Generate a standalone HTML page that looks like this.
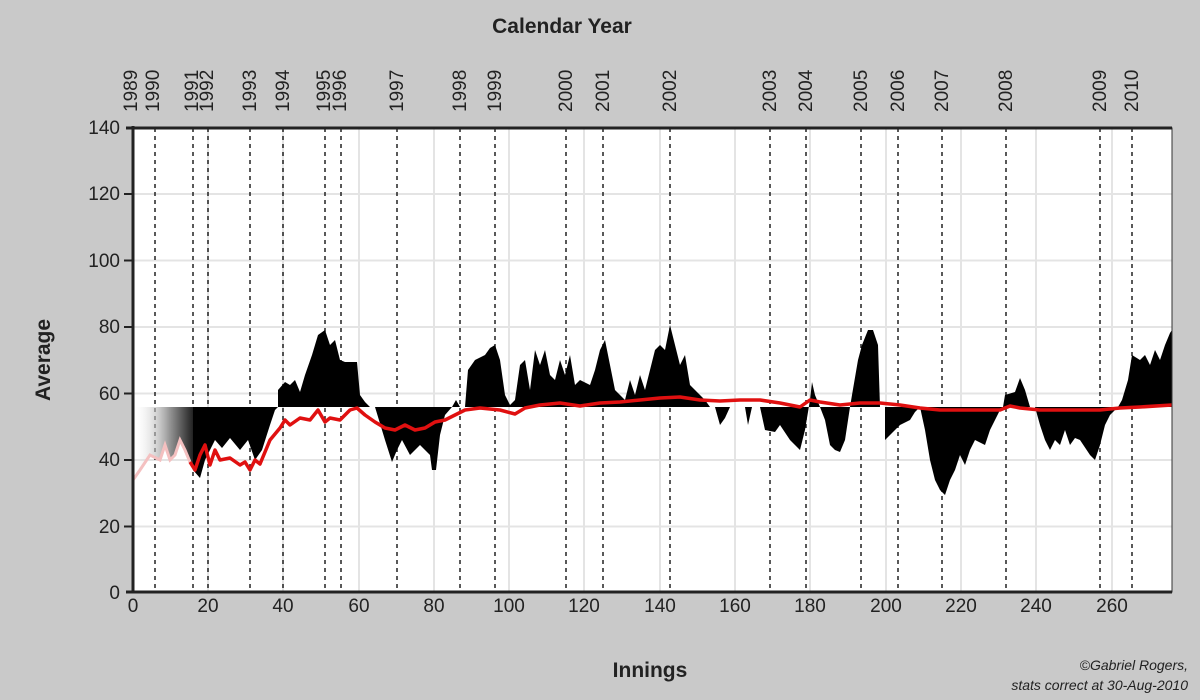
<!DOCTYPE html>
<html><head><meta charset="utf-8"><style>
html,body{margin:0;padding:0;background:#c9c9c9;}
svg{display:block;font-family:"Liberation Sans",sans-serif;}
</style></head><body>
<svg width="1200" height="700" viewBox="0 0 1200 700">
<defs>
<linearGradient id="g" x1="0" x2="1" y1="0" y2="0">
<stop offset="0" stop-color="#fff" stop-opacity="0"/>
<stop offset="0.6" stop-color="#999"/>
<stop offset="1" stop-color="#222"/>
</linearGradient>
</defs>
<rect width="1200" height="700" fill="#c9c9c9"/>
<rect x="133" y="128" width="1039" height="464" fill="#fff"/>
<g stroke="#e4e4e4" stroke-width="2">
<line x1="133" x2="1172" y1="526.5" y2="526.5"/><line x1="133" x2="1172" y1="460" y2="460"/>
<line x1="133" x2="1172" y1="393.5" y2="393.5"/><line x1="133" x2="1172" y1="327" y2="327"/>
<line x1="133" x2="1172" y1="260.5" y2="260.5"/><line x1="133" x2="1172" y1="194" y2="194"/>
<line x1="208" x2="208" y1="128" y2="592"/><line x1="283" x2="283" y1="128" y2="592"/><line x1="359" x2="359" y1="128" y2="592"/><line x1="434" x2="434" y1="128" y2="592"/><line x1="509" x2="509" y1="128" y2="592"/><line x1="584" x2="584" y1="128" y2="592"/><line x1="660" x2="660" y1="128" y2="592"/><line x1="735" x2="735" y1="128" y2="592"/><line x1="810" x2="810" y1="128" y2="592"/><line x1="886" x2="886" y1="128" y2="592"/><line x1="961" x2="961" y1="128" y2="592"/><line x1="1036" x2="1036" y1="128" y2="592"/><line x1="1112" x2="1112" y1="128" y2="592"/>
</g>
<g stroke="#222" stroke-width="1.5" stroke-dasharray="4,4">
<line x1="155" x2="155" y1="128" y2="592"/><line x1="193" x2="193" y1="128" y2="592"/><line x1="208" x2="208" y1="128" y2="592"/><line x1="250" x2="250" y1="128" y2="592"/><line x1="283" x2="283" y1="128" y2="592"/><line x1="325" x2="325" y1="128" y2="592"/><line x1="341" x2="341" y1="128" y2="592"/><line x1="397" x2="397" y1="128" y2="592"/><line x1="460" x2="460" y1="128" y2="592"/><line x1="495" x2="495" y1="128" y2="592"/><line x1="566" x2="566" y1="128" y2="592"/><line x1="603" x2="603" y1="128" y2="592"/><line x1="670" x2="670" y1="128" y2="592"/><line x1="770" x2="770" y1="128" y2="592"/><line x1="806" x2="806" y1="128" y2="592"/><line x1="861" x2="861" y1="128" y2="592"/><line x1="898" x2="898" y1="128" y2="592"/><line x1="942" x2="942" y1="128" y2="592"/><line x1="1006" x2="1006" y1="128" y2="592"/><line x1="1100" x2="1100" y1="128" y2="592"/><line x1="1132" x2="1132" y1="128" y2="592"/>
</g>
<polygon fill="url(#g)" points="133,407 193,407 193,470 185,450 180,440 175,455 170,460 165,445 160,460 150,455 140,470 133,480"/>
<polygon fill="#000" points="193,407 193,470 200,478 205,460 215,440 222,448 230,438 240,450 248,440 255,460 262,450 270,425 275,410 278,407 278,390 285,382 290,385 295,380 300,392 305,375 312,355 318,335 325,330 330,345 335,340 340,360 345,362 357,362 360,395 365,402 370,407 375,407 385,440 392,462 397,450 402,440 410,455 420,445 430,455 432,470 436,470 440,435 445,415 452,407 456,400 460,407 465,407 468,370 475,360 485,355 490,348 495,345 500,360 505,395 510,405 515,400 520,365 525,360 530,390 535,350 540,365 545,350 550,375 555,380 560,360 565,375 570,355 575,385 580,380 590,385 595,370 600,350 605,340 610,365 615,390 620,395 625,400 630,380 635,395 640,375 645,390 650,370 655,350 660,345 665,350 670,325 675,345 680,365 685,355 690,385 695,390 700,395 705,400 710,407 715,407 720,425 725,418 730,407 745,407 748,425 752,407 760,407 765,430 775,432 780,425 790,440 795,445 800,450 805,430 810,400 812,382 815,395 820,407 825,420 830,445 835,450 840,452 845,440 850,407 852,395 858,360 862,345 868,330 873,330 878,345 880,407 885,407 885,440 892,433 900,425 910,420 915,412 920,407 925,430 930,460 935,480 940,490 945,495 950,480 955,470 960,455 965,465 970,450 975,440 985,445 990,430 995,420 1000,410 1003,407 1005,395 1015,392 1020,378 1025,390 1030,407 1035,407 1040,425 1045,440 1050,450 1055,440 1060,445 1065,430 1070,445 1075,438 1080,440 1090,455 1095,460 1100,445 1105,425 1110,415 1115,410 1118,407 1122,400 1128,380 1132,355 1140,360 1145,355 1150,365 1155,350 1160,360 1165,345 1170,333 1172,330 1172,407"/>
<polyline fill="none" stroke="#f4c0c0" stroke-width="3" points="133,480 140,470 150,455 160,460 165,445 170,460 175,455 180,440 185,450 190,462"/>
<polyline fill="none" stroke="#e01010" stroke-width="3.5" stroke-linejoin="round" points="190,462 195,470 200,455 205,445 210,465 215,450 220,460 230,458 240,465 245,462 250,470 255,460 260,464 270,440 280,428 285,420 290,425 300,418 310,420 318,410 325,422 330,418 340,420 350,410 357,408 365,415 375,422 385,428 395,430 405,425 415,430 425,428 435,422 445,420 455,415 465,410 480,408 500,410 515,414 525,408 540,405 560,403 580,406 600,403 620,402 640,400 660,398 680,397 700,400 720,401 740,400 760,400 780,403 800,407 810,400 820,402 840,405 860,403 880,403 900,405 920,408 940,410 960,410 980,410 1000,410 1010,406 1020,408 1040,410 1080,410 1100,410 1120,408 1140,407 1172,405"/>
<rect x="133" y="128" width="1039" height="464" fill="none" stroke="#333" stroke-width="1"/>
<line x1="133" x2="133" y1="126" y2="593" stroke="#222" stroke-width="3"/>
<line x1="126" x2="1172" y1="592" y2="592" stroke="#222" stroke-width="3"/>
<line x1="126" x2="1172" y1="128" y2="128" stroke="#222" stroke-width="3"/>
<g stroke="#222" stroke-width="2">
<line x1="124" x2="133" y1="526.5" y2="526.5"/><line x1="124" x2="133" y1="460" y2="460"/><line x1="124" x2="133" y1="393.5" y2="393.5"/><line x1="124" x2="133" y1="327" y2="327"/><line x1="124" x2="133" y1="260.5" y2="260.5"/><line x1="124" x2="133" y1="194" y2="194"/>
</g>
<g font-size="19" fill="#222" text-anchor="end">
<text x="120" y="599">0</text><text x="120" y="533">20</text><text x="120" y="466">40</text><text x="120" y="400">60</text><text x="120" y="333">80</text><text x="120" y="267">100</text><text x="120" y="200">120</text><text x="120" y="134">140</text>
</g>
<g font-size="19" fill="#222" text-anchor="middle">
<text x="133" y="612">0</text><text x="208" y="612">20</text><text x="283" y="612">40</text><text x="359" y="612">60</text><text x="434" y="612">80</text><text x="509" y="612">100</text><text x="584" y="612">120</text><text x="660" y="612">140</text><text x="735" y="612">160</text><text x="810" y="612">180</text><text x="886" y="612">200</text><text x="961" y="612">220</text><text x="1036" y="612">240</text><text x="1112" y="612">260</text>
</g>
<g font-size="19" fill="#222">
<text transform="translate(137,112) rotate(-90)">1989</text>
<text transform="translate(159,112) rotate(-90)">1990</text>
<text transform="translate(198,112) rotate(-90)">1991</text>
<text transform="translate(213,112) rotate(-90)">1992</text>
<text transform="translate(256,112) rotate(-90)">1993</text>
<text transform="translate(289,112) rotate(-90)">1994</text>
<text transform="translate(330,112) rotate(-90)">1995</text>
<text transform="translate(346,112) rotate(-90)">1996</text>
<text transform="translate(403,112) rotate(-90)">1997</text>
<text transform="translate(466,112) rotate(-90)">1998</text>
<text transform="translate(501,112) rotate(-90)">1999</text>
<text transform="translate(572,112) rotate(-90)">2000</text>
<text transform="translate(609,112) rotate(-90)">2001</text>
<text transform="translate(676,112) rotate(-90)">2002</text>
<text transform="translate(776,112) rotate(-90)">2003</text>
<text transform="translate(812,112) rotate(-90)">2004</text>
<text transform="translate(867,112) rotate(-90)">2005</text>
<text transform="translate(904,112) rotate(-90)">2006</text>
<text transform="translate(948,112) rotate(-90)">2007</text>
<text transform="translate(1012,112) rotate(-90)">2008</text>
<text transform="translate(1106,112) rotate(-90)">2009</text>
<text transform="translate(1138,112) rotate(-90)">2010</text>
</g>
<text x="562" y="33" font-size="21" font-weight="bold" fill="#222" text-anchor="middle">Calendar Year</text>
<text x="650" y="677" font-size="21" font-weight="bold" fill="#222" text-anchor="middle">Innings</text>
<text transform="translate(50,360) rotate(-90)" font-size="21" font-weight="bold" fill="#222" text-anchor="middle">Average</text>
<text x="1188" y="670" font-size="14" font-style="italic" fill="#222" text-anchor="end">©Gabriel Rogers,</text>
<text x="1188" y="690" font-size="14" font-style="italic" fill="#222" text-anchor="end">stats correct at 30-Aug-2010</text>
</svg>
</body></html>
